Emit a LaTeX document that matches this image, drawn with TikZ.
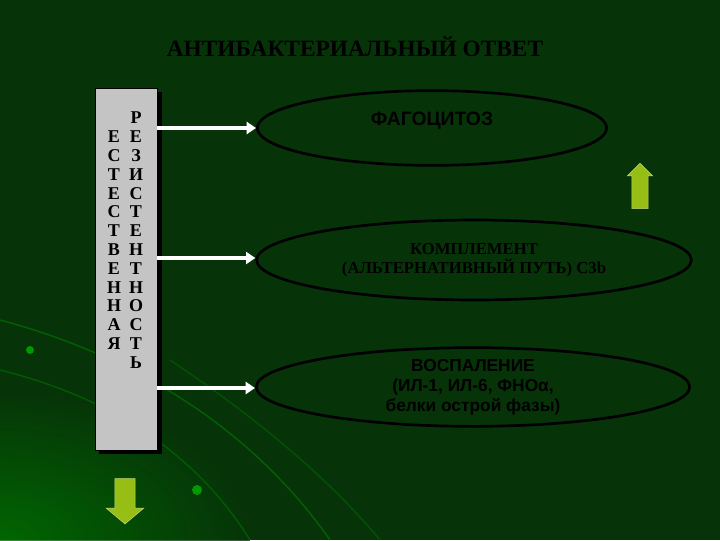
\documentclass[tikz,border=0pt]{standalone}
\usepackage{fontspec}
\setmainfont{Liberation Serif}
\newfontfamily\sansf{Liberation Sans}
\usetikzlibrary{arrows.meta,shapes.arrows,shapes.geometric}
\definecolor{bg}{RGB}{6,52,8}
\definecolor{ygreen}{RGB}{150,190,20}
\definecolor{boxgray}{RGB}{196,196,196}
\begin{document}
\begin{tikzpicture}[x=0.75pt,y=-0.75pt,
  oval/.style={ellipse,draw=black,line width=2pt},
  warr/.style={draw=white,line width=3pt,-{Triangle[length=7pt,width=9pt]}},
  letter/.style={font=\bfseries\fontsize{13.5}{13.5}\selectfont,text=black,inner sep=0pt}]
\useasboundingbox (0,0) rectangle (720,540);
\fill[bg] (0,0) rectangle (720,540);
\shade[inner color=green!45!black, outer color=bg, opacity=0.8] (0,540) ellipse[x radius=250,y radius=150];
\draw[green!50!black,opacity=0.6,line width=1pt] (0,320) .. controls (150,360) and (260,440) .. (330,540);
\draw[green!50!black,opacity=0.5,line width=1pt] (0,370) .. controls (120,400) and (200,460) .. (250,540);
\draw[green!50!black,opacity=0.4,line width=1pt] (170,360) .. controls (260,420) and (330,480) .. (380,540);
\fill[green!60!black] (30,350) circle (4);
\fill[green!60!black] (197,490) circle (5);
\node (title) at (355,47) {\bfseries\fontsize{17.5}{17.5}\selectfont АНТИБАКТЕРИАЛЬНЫЙ ОТВЕТ};
\fill[black] (99,92) rectangle (162,454);
\node[draw=black,line width=1pt,fill=boxgray,inner sep=0pt,anchor=north west,minimum width=46.5pt,minimum height=271.5pt] (box) at (95,88) {};
\foreach \l [count=\i from 2] in {Е,С,Т,Е,С,Т,В,Е,Н,Н,А,Я}
  \node[letter] (l\i) at (114,{118+(\i-1)*18.8}) {\l};
\foreach \l [count=\i from 1] in {Р,Е,З,И,С,Т,Е,Н,Т,Н,О,С,Т,Ь}
  \node[letter] (r\i) at (136,{118+(\i-1)*18.8}) {\l};
\node[oval,minimum width=262pt,minimum height=56pt] (fag) at (432,128) {};
\node[text=black,font=\bfseries\sansf\fontsize{14.5}{14.5}\selectfont] at (432,121) {ФАГОЦИТОЗ};
\node[oval,minimum width=326pt,minimum height=60pt] (komp) at (474,260) {};
\node[text=black,align=center,font=\bfseries\fontsize{12.5}{14}\selectfont] at (komp) {КОМПЛЕМЕНТ\\(АЛЬТЕРНАТИВНЫЙ ПУТЬ) C3b};
\node[oval,minimum width=325pt,minimum height=59pt] (vosp) at (473,387) {};
\node[text=black,align=center,font=\bfseries\sansf\fontsize{13}{15}\selectfont] at (vosp) {ВОСПАЛЕНИЕ\\(ИЛ-1, ИЛ-6, ФНОα,\\белки острой фазы)};
\coordinate (a1) at (157,128); \coordinate (a2) at (157,258); \coordinate (a3) at (157,388);
\draw[warr] (a1) -- (a1 -| fag.west);
\draw[warr] (a2) -- (a2 -| komp.west);
\draw[warr] (a3) -- (a3 -| vosp.west);
\node[single arrow,shape border rotate=90,fill=ygreen,draw=ygreen!60!white,minimum height=34pt,minimum width=19pt,single arrow head extend=2pt] (up) at (640,190) {};
\node[single arrow,shape border rotate=270,fill=ygreen,draw=ygreen!60!white,minimum height=34pt,minimum width=28pt,single arrow head extend=3pt,single arrow tip angle=100] (down) at (125,497) {};
\end{tikzpicture}
\end{document}
